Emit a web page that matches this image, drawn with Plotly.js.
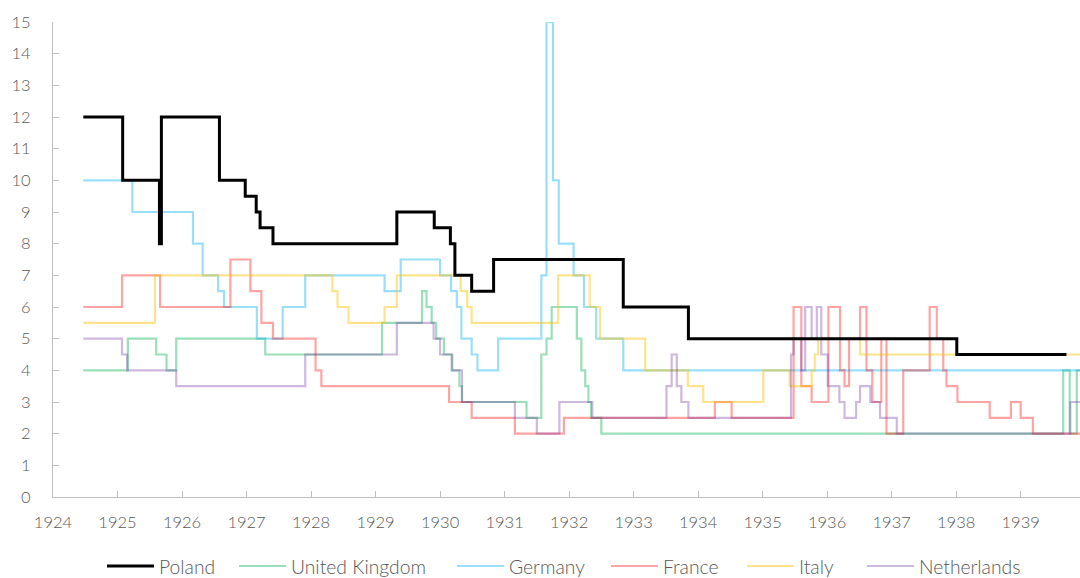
<!DOCTYPE html>
<html>
<head>
<meta charset="utf-8">
<script src="https://cdn.plot.ly/plotly-3.0.1.min.js"></script>
<style>html,body{margin:0;padding:0;background:#fff;}#chart{width:1080px;height:578px;}</style>
</head>
<body>
<div id="chart"></div>
<script>
// Years (decimal) where each rate takes effect, and rate values (%)
const polandX = [1924.47, 1925.08, 1925.65, 1925.68, 1926.58, 1926.98, 1927.15, 1927.21, 1927.41, 1929.33, 1929.91, 1930.16, 1930.23, 1930.49, 1930.83, 1932.84, 1933.85, 1938.01, 1939.71];
const polandY = [12, 10, 8, 12, 10, 9.5, 9, 8.5, 8, 9, 8.5, 8, 7, 6.5, 7.5, 6, 5, 4.5, 4.5];

const ukX = [1924.47, 1925.16, 1925.60, 1925.76, 1925.91, 1927.29, 1929.10, 1929.72, 1929.79, 1929.87, 1929.94, 1930.06, 1930.19, 1930.30, 1930.34, 1931.34, 1931.57, 1931.65, 1931.73, 1932.12, 1932.19, 1932.25, 1932.30, 1932.34, 1932.50, 1939.66, 1939.76, 1939.87, 1939.95];
const ukY = [4, 5, 4.5, 4, 5, 4.5, 5.5, 6.5, 6, 5.5, 5, 4.5, 4, 3.5, 3, 2.5, 4.5, 5, 6, 5, 4, 3.5, 3, 2.5, 2, 4, 2, 4, 4];

const germanyX = [1924.47, 1925.23, 1926.17, 1926.32, 1926.56, 1926.65, 1927.16, 1927.56, 1927.91, 1929.14, 1929.39, 1930.0, 1930.17, 1930.26, 1930.33, 1930.49, 1930.58, 1930.90, 1931.57, 1931.65, 1931.75, 1931.84, 1932.07, 1932.23, 1932.42, 1932.84, 1939.95];
const germanyY = [10, 9, 8, 7, 6.5, 6, 5, 6, 7, 6.5, 7.5, 7, 6.5, 6, 5, 4.5, 4, 5, 7, 15, 10, 8, 7, 6, 5, 4, 4];

const franceX = [1924.47, 1925.07, 1925.66, 1926.75, 1927.06, 1927.23, 1927.41, 1928.07, 1928.16, 1930.14, 1930.49, 1931.16, 1931.92, 1934.26, 1934.52, 1935.48, 1935.60, 1935.76, 1936.02, 1936.20, 1936.27, 1936.34, 1936.51, 1936.61, 1936.70, 1936.84, 1936.92, 1937.18, 1937.59, 1937.70, 1937.80, 1937.85, 1938.02, 1938.52, 1938.85, 1939.0, 1939.19, 1939.95];
const franceY = [6, 7, 6, 7.5, 6.5, 5.5, 5, 4, 3.5, 3, 2.5, 2, 2.5, 3, 2.5, 6, 3.5, 3, 6, 4, 3.5, 5, 6, 4, 3, 5, 2, 4, 6, 5, 4, 3.5, 3, 2.5, 3, 2.5, 2, 2];

const italyX = [1924.47, 1925.58, 1928.33, 1928.41, 1928.58, 1929.14, 1929.33, 1930.32, 1930.42, 1930.49, 1931.83, 1932.32, 1932.48, 1933.18, 1933.84, 1934.08, 1935.01, 1935.42, 1935.76, 1935.81, 1935.86, 1936.51, 1939.95];
const italyY = [5.5, 7, 6.5, 6, 5.5, 6, 7, 6.5, 6, 5.5, 7, 6, 5, 4, 3.5, 3, 4, 3.5, 4, 4.5, 5, 4.5, 4.5];

const netherlandsX = [1924.47, 1925.07, 1925.15, 1925.91, 1927.91, 1929.33, 1929.90, 1930.0, 1930.18, 1930.34, 1931.16, 1931.50, 1931.85, 1932.36, 1933.51, 1933.59, 1933.67, 1933.74, 1933.85, 1935.44, 1935.48, 1935.60, 1935.66, 1935.76, 1935.84, 1935.91, 1936.01, 1936.19, 1936.27, 1936.45, 1936.51, 1936.67, 1936.82, 1937.08, 1939.77, 1939.95];
const netherlandsY = [5, 4.5, 4, 3.5, 4.5, 5.5, 5, 4.5, 4, 3, 2.5, 2, 3, 2.5, 3.5, 4.5, 3.5, 3, 2.5, 4.5, 5, 4, 6, 5, 6, 4.5, 3.5, 3, 2.5, 3, 3.5, 3, 2.5, 2, 3, 3];

const yearTicks = [1924, 1925, 1926, 1927, 1928, 1929, 1930, 1931, 1932, 1933, 1934, 1935, 1936, 1937, 1938, 1939];

function series(name, x, y, color, width, legendId) {
  return {type: 'scatter', mode: 'lines', name: name, x: x, y: y, legend: legendId,
    line: {shape: 'hv', color: color, width: width}, hoverinfo: 'skip'};
}

const data = [
  series('United Kingdom', ukX, ukY, 'rgba(0,176,80,0.40)', 2.2, 'legend2'),
  series('Germany', germanyX, germanyY, 'rgba(0,176,240,0.40)', 2.2, 'legend3'),
  series('France', franceX, franceY, 'rgba(255,0,0,0.36)', 2.2, 'legend4'),
  series('Italy', italyX, italyY, 'rgba(255,192,0,0.45)', 2.2, 'legend5'),
  series('Netherlands', netherlandsX, netherlandsY, 'rgba(112,48,160,0.34)', 2.2, 'legend6'),
  series('Poland', polandX, polandY, '#000000', 3, 'legend')
];

function legendAt(px) {
  return {orientation: 'h', xref: 'container', x: px / 1080, xanchor: 'left',
    yref: 'container', y: 0.02, yanchor: 'middle', itemwidth: 47,
    bgcolor: 'rgba(0,0,0,0)', font: {size: 19.3, color: '#595959', weight: 300}};
}

const layout = {
  width: 1080, height: 578,
  margin: {l: 53, r: 0, t: 22, b: 81},
  paper_bgcolor: '#ffffff', plot_bgcolor: '#ffffff',
  font: {family: 'Lato, "Open Sans", sans-serif', color: '#595959', size: 15},
  showlegend: true,
  legend: legendAt(102),
  legend2: legendAt(234),
  legend3: legendAt(452),
  legend4: legendAt(606),
  legend5: legendAt(742),
  legend6: legendAt(862),
  xaxis: {range: [1924, 1939.92], tickvals: yearTicks, ticktext: yearTicks.map(String),
    showline: true, linecolor: '#bfbfbf', linewidth: 1, ticks: 'inside', ticklen: 6,
    tickcolor: '#bfbfbf', showgrid: false, zeroline: false, ticklabelstandoff: 10,
    tickfont: {size: 16.5, color: '#595959', weight: 300}},
  yaxis: {range: [0, 15], dtick: 1, tick0: 0, showline: true, linecolor: '#bfbfbf', linewidth: 1,
    ticks: 'inside', ticklen: 6, tickcolor: '#bfbfbf', showgrid: false, zeroline: false,
    ticklabelstandoff: 18, tickfont: {size: 16.5, color: '#595959', weight: 300}}
};

Plotly.newPlot('chart', data, layout, {staticPlot: true, displayModeBar: false});
</script>
</body>
</html>
